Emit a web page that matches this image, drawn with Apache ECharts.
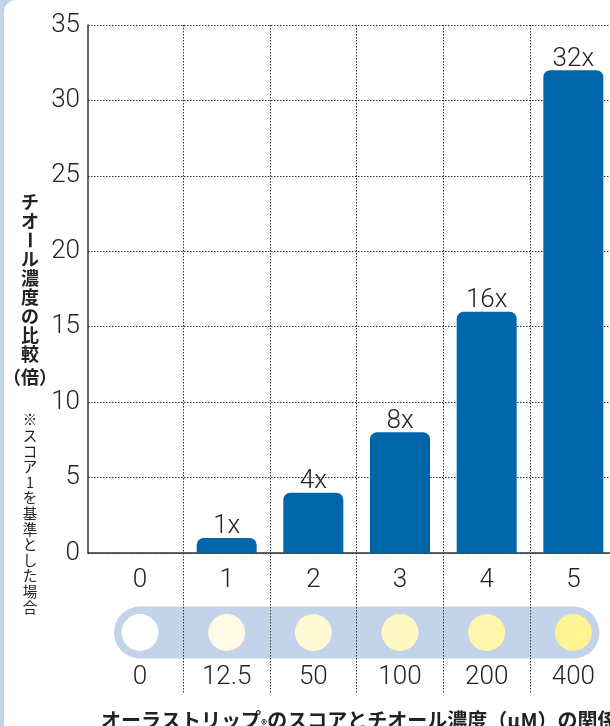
<!DOCTYPE html>
<html>
<head>
<meta charset="utf-8">
<script src="https://cdn.jsdelivr.net/npm/echarts@6/dist/echarts.min.js"></script>
<style>
html,body{margin:0;padding:0;background:#c3d3ea;overflow:hidden;width:610px;height:726px;}
#chart{width:640px;height:726px;}
</style>
</head>
<body>
<div id="chart"></div>
<script>
// ---- data ----
const scores = ['0', '1', '2', '3', '4', '5'];
const ratios = [0, 1, 4, 8, 16, 32];
const concentrations = ['0', '12.5', '50', '100', '200', '400'];
const swatchColors = ['#ffffff', '#fffbe7', '#fff9d4', '#fff8c3', '#fff5ac', '#fff394'];
const yMin = 0, yMax = 35, yStep = 5;
const yTitle = 'チオール濃度の比較（倍）';
const yNote = '※スコア1を基準とした場合';
const xTitle = 'オーラストリップ®のスコアとチオール濃度（μM）の関係';

const NUM_FONT = "Roboto, 'Liberation Sans', Arial, sans-serif";
const NUM_WEIGHT = 300;
const NUM_SIZE = 26;
const JP_FONT = "'Noto Sans CJK JP', sans-serif";
const INK = '#222';
const dotted = { type: [1.5, 1.5], color: '#333', width: 1 };

const chart = echarts.init(document.getElementById('chart'));

const stack = s => s.split('').join('\n');

const option = {
  backgroundColor: '#c3d3ea',
  animation: false,
  title: {
    text: xTitle.replace('®', '{r|®}'),
    left: 96, top: 705,
    textStyle: {
      fontFamily: JP_FONT, fontSize: 20, fontWeight: 'bold', color: INK,
      rich: { r: { fontFamily: JP_FONT, fontSize: 12, fontWeight: 'bold', color: INK, padding: [8, 0, 0, 0] } }
    }
  },
  graphic: [
    { type: 'rect', z: -100, shape: { x: 4, y: 0, width: 660, height: 760, r: [12, 0, 0, 0] }, style: { fill: '#ffffff' } },
    { type: 'text', x: 30, y: 211.5, style: { text: stack(yTitle.slice(0, 2)), fontFamily: JP_FONT, fontSize: 18, fontWeight: 'bold', lineHeight: 19, align: 'center', verticalAlign: 'middle', fill: INK } },
    { type: 'text', x: 30, y: 240, rotation: -Math.PI / 2, style: { text: yTitle.slice(2, 3), fontFamily: JP_FONT, fontSize: 18, fontWeight: 'bold', align: 'center', verticalAlign: 'middle', fill: INK } },
    { type: 'text', x: 30, y: 306.5, style: { text: stack(yTitle.slice(3, 9)), fontFamily: JP_FONT, fontSize: 18, fontWeight: 'bold', lineHeight: 19, align: 'center', verticalAlign: 'middle', fill: INK } },
    { type: 'text', x: 30, y: 377, style: { text: yTitle.slice(9), fontFamily: JP_FONT, fontSize: 18, fontWeight: 'bold', align: 'center', verticalAlign: 'middle', fill: INK } },
    { type: 'text', x: 30, y: 513.5, style: { text: stack(yNote), fontFamily: JP_FONT, fontSize: 14.5, lineHeight: 15.6, align: 'center', verticalAlign: 'middle', fill: INK } }
  ],
  grid: [
    { left: 88, top: 25, width: 528, height: 528 },        // y axis + horizontal grid
    { left: 96.67, top: 25, width: 520, height: 528 },     // bars + score labels
    { left: 96.67, top: 606, width: 520, height: 53 },     // colour strip + concentrations
    { left: 96.67, top: 25, width: 520, height: 668 }      // vertical dotted lines
  ],
  xAxis: [
    { gridIndex: 0, type: 'value', min: 0, max: 1, axisLine: { show: true, lineStyle: { color: '#333', width: 1.5 } }, axisTick: { show: false }, axisLabel: { show: false }, splitLine: { show: false } },
    { gridIndex: 1, type: 'category', data: scores, axisLine: { show: false }, axisTick: { show: false }, splitLine: { show: false },
      axisLabel: { fontFamily: NUM_FONT, fontWeight: NUM_WEIGHT, fontSize: NUM_SIZE, color: INK, margin: 14 } },
    { gridIndex: 2, type: 'category', data: concentrations, axisLine: { show: false }, axisTick: { show: false }, splitLine: { show: false },
      axisLabel: { fontFamily: NUM_FONT, fontWeight: NUM_WEIGHT, fontSize: NUM_SIZE, color: INK, margin: 5 } },
    { gridIndex: 3, type: 'category', data: scores, z: 5, axisLine: { show: false }, axisTick: { show: false }, axisLabel: { show: false },
      splitLine: { show: true, showMinLine: false, showMaxLine: false, lineStyle: dotted } }
  ],
  yAxis: [
    { gridIndex: 0, type: 'value', min: yMin, max: yMax, interval: yStep,
      axisLine: { show: true, lineStyle: { color: '#333', width: 1.5 } }, axisTick: { show: false },
      axisLabel: { fontFamily: NUM_FONT, fontWeight: NUM_WEIGHT, fontSize: NUM_SIZE, color: INK, margin: 8 },
      splitLine: { show: true, lineStyle: dotted } },
    { gridIndex: 1, type: 'value', min: yMin, max: yMax, show: false, splitLine: { show: false } },
    { gridIndex: 2, type: 'value', min: 0, max: 1, show: false, splitLine: { show: false } },
    { gridIndex: 3, type: 'value', min: 0, max: 1, show: false, splitLine: { show: false } }
  ],
  series: [
    {
      type: 'bar', xAxisIndex: 1, yAxisIndex: 1, data: ratios, barWidth: 60,
      itemStyle: { color: '#0066aa', borderRadius: [7, 7, 0, 0] },
      label: { show: true, position: 'top', distance: -2, fontFamily: NUM_FONT, fontWeight: NUM_WEIGHT, fontSize: NUM_SIZE, color: INK,
        formatter: p => (p.value > 0 ? p.value + 'x' : '') }
    },
    {
      type: 'line', xAxisIndex: 2, yAxisIndex: 2, z: 1, symbol: 'none', silent: true,
      data: concentrations.map(() => 0.5),
      lineStyle: { color: '#c3d3ea', width: 52, cap: 'round' }
    },
    {
      type: 'scatter', xAxisIndex: 2, yAxisIndex: 2, z: 3, symbolSize: 37,
      data: swatchColors.map((c, i) => ({ value: [i, 0.5], itemStyle: { color: c, opacity: 1 } }))
    }
  ]
};
chart.setOption(option);
</script>
</body>
</html>
